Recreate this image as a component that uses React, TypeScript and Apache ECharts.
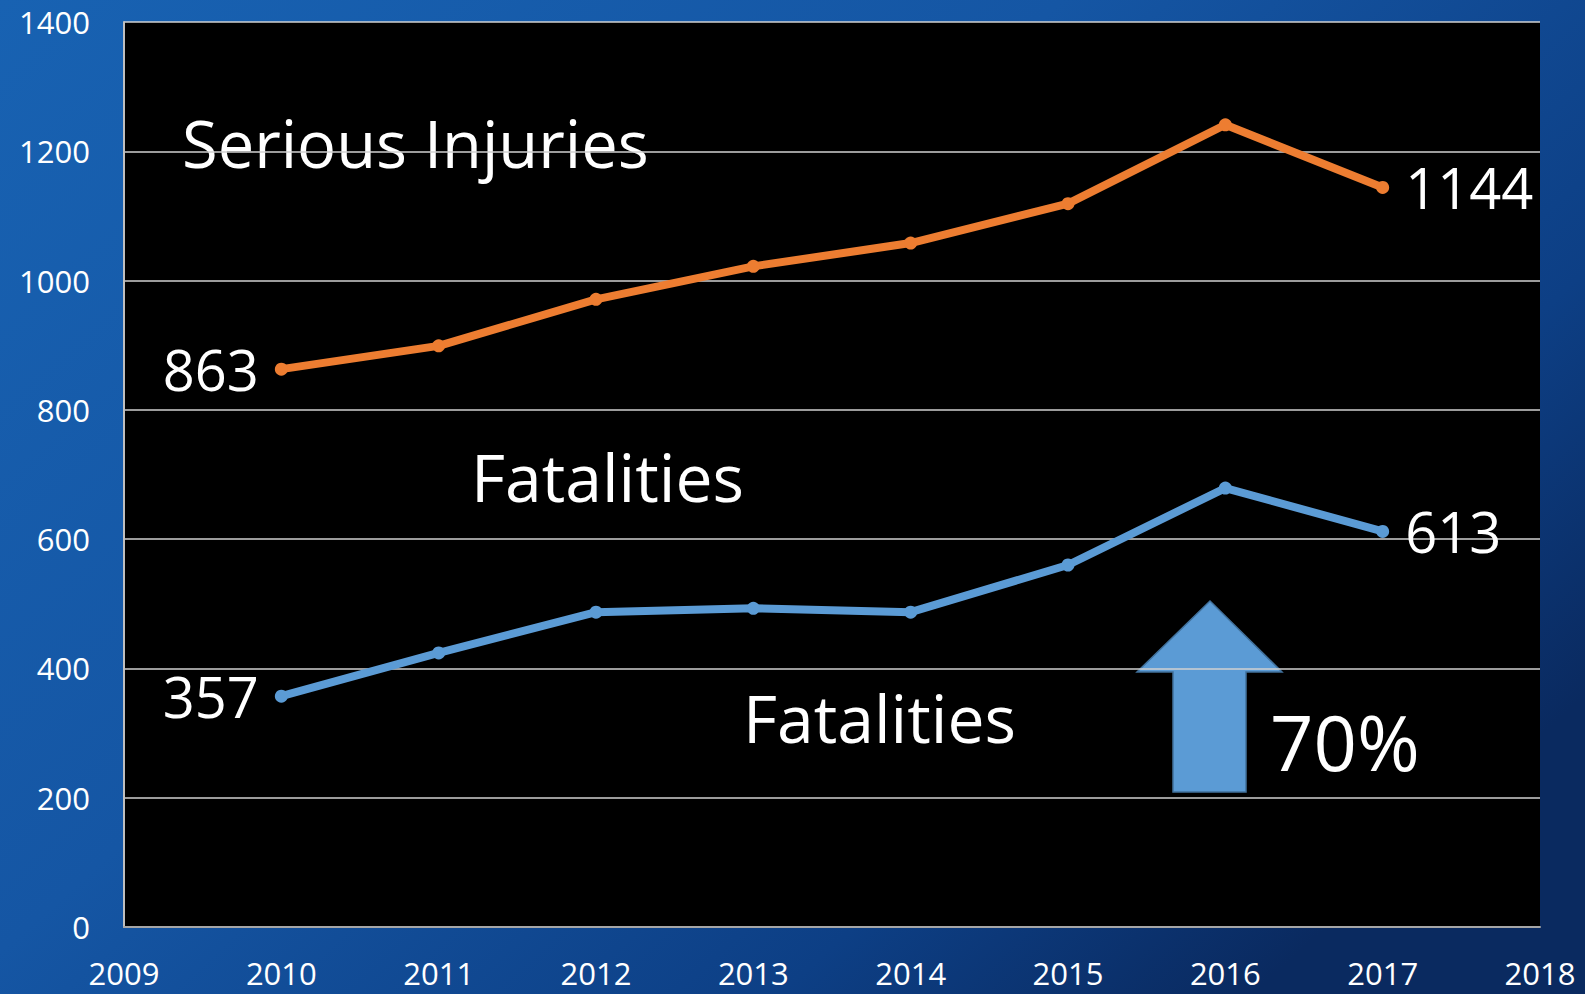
import React, { useEffect, useRef } from "react";
import * as echarts from "echarts";

const years = [2010, 2011, 2012, 2013, 2014, 2015, 2016, 2017];
const seriousInjuries = [863, 899, 971, 1022, 1058, 1119, 1241, 1144];
const fatalities = [357, 424, 487, 493, 487, 560, 679, 612];
const yTicks = { min: 0, max: 1400, interval: 200 };
const xTicks = { min: 2009, max: 2018, interval: 1 };
const labelTexts = { injuries: "Serious Injuries", fatalities: "Fatalities", pct: "70%" };
const endLabels = { injStart: "863", injEnd: "1144", fatStart: "357", fatEnd: "613" };

const FONT = "'Open Sans', 'Noto Sans', sans-serif";

export default function App() {
  const ref = useRef<HTMLDivElement>(null);
  useEffect(() => {
    const chart = echarts.init(ref.current!, null, { renderer: "svg" });
    const mk = (vals: number[], startLbl: string, endLbl: string) =>
      vals.map((v, i) => {
        const item: any = { value: [years[i], v] };
        if (i === 0) {
          item.label = { show: true, position: "left", formatter: startLbl, distance: 16 };
        } else if (i === vals.length - 1) {
          item.label = { show: true, position: "right", formatter: endLbl, distance: 16 };
        }
        return item;
      });
    const labelStyle = { color: "#ffffff", fontSize: 56, fontFamily: FONT };
    chart.setOption({
      animation: false,
      backgroundColor: {
        type: "linear",
        x: 0, y: 0, x2: 1, y2: 0.7,
        colorStops: [
          { offset: 0, color: "#1862b2" },
          { offset: 0.45, color: "#1556a4" },
          { offset: 0.8, color: "#0d3f85" },
          { offset: 1, color: "#0a2a60" },
        ],
      },
      grid: { left: 124, right: 45, top: 22, bottom: 67, show: true, backgroundColor: "#000000", borderWidth: 0 },
      xAxis: {
        type: "value",
        min: xTicks.min,
        max: xTicks.max,
        interval: xTicks.interval,
        axisLine: { show: true, lineStyle: { color: "#a6a6a6", width: 2 } },
        axisTick: { show: false },
        splitLine: { show: false },
        axisLabel: { color: "#ffffff", fontSize: 31, fontFamily: FONT, margin: 30, formatter: (v: number) => String(v) },
      },
      yAxis: {
        type: "value",
        min: yTicks.min,
        max: yTicks.max,
        interval: yTicks.interval,
        axisLine: { show: true, lineStyle: { color: "#bfbfbf", width: 2 } },
        axisTick: { show: false },
        splitLine: { show: true, lineStyle: { color: "#d0d0d0", width: 1.5 } },
        axisLabel: { color: "#ffffff", fontSize: 31, fontFamily: FONT, margin: 34, formatter: (v: number) => String(v) },
      },
      series: [
        {
          type: "line",
          data: mk(seriousInjuries, endLabels.injStart, endLabels.injEnd),
          lineStyle: { color: "#ed7d31", width: 8 },
          itemStyle: { color: "#ed7d31" },
          symbol: "circle",
          symbolSize: 13,
          label: { ...labelStyle },
        },
        {
          type: "line",
          data: mk(fatalities, endLabels.fatStart, endLabels.fatEnd),
          lineStyle: { color: "#5b9bd5", width: 8 },
          itemStyle: { color: "#5b9bd5" },
          symbol: "circle",
          symbolSize: 13,
          label: { ...labelStyle },
        },
      ],
      graphic: [
        {
          type: "text", left: 182, top: 110,
          style: { text: labelTexts.injuries, fill: "#ffffff", fontSize: 65, fontFamily: FONT },
        },
        {
          type: "text", left: 471, top: 443,
          style: { text: labelTexts.fatalities, fill: "#ffffff", fontSize: 66, fontFamily: FONT },
        },
        {
          type: "text", left: 743, top: 684,
          style: { text: labelTexts.fatalities, fill: "#ffffff", fontSize: 66, fontFamily: FONT },
        },
        {
          type: "text", left: 1270, top: 703,
          style: { text: labelTexts.pct, fill: "#ffffff", fontSize: 76, fontFamily: FONT },
        },
        {
          type: "polygon",
          shape: {
            points: [
              [1210, 601], [1282, 672], [1246, 672], [1246, 792],
              [1173, 792], [1173, 672], [1137, 672],
            ],
          },
          style: { fill: "#5b9bd5", stroke: "#41719c", lineWidth: 1.5 },
        },
      ],
    });
    return () => chart.dispose();
  }, []);
  return <div ref={ref} style={{ position: "absolute", left: 0, top: 0, width: 1585, height: 994 }} />;
}
